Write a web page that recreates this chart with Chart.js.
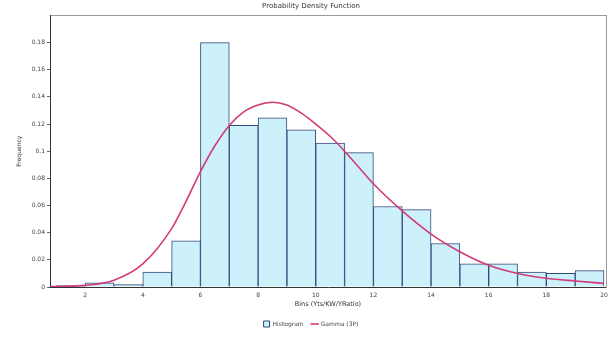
<!DOCTYPE html>
<html>
<head>
<meta charset="utf-8">
<script src="https://cdn.jsdelivr.net/npm/chart.js@4"></script>
<style>
  html, body { margin: 0; padding: 0; background: #fff; }
  #wrap { width: 610px; height: 341px; }
</style>
</head>
<body>
<div id="wrap"><canvas id="pdfChart" width="610" height="341"></canvas></div>
<script>
// Histogram bins (centre of each 1-unit bin) and their frequencies
const binCenters = [1.5, 2.5, 3.5, 4.5, 5.5, 6.5, 7.5, 8.5, 9.5, 10.5, 11.5, 12.5, 13.5, 14.5, 15.5, 16.5, 17.5, 18.5, 19.5];
const binFreq = [0.001, 0.003, 0.0017, 0.011, 0.034, 0.180, 0.119, 0.1245, 0.1157, 0.106, 0.099, 0.0593, 0.057, 0.032, 0.017, 0.017, 0.011, 0.010, 0.012];

// Gamma (3P) fitted curve
const curveX = [0.8, 1, 2, 3, 4, 5, 5.5, 6, 6.5, 7, 7.5, 8, 8.5, 9, 9.5, 10, 10.5, 11, 11.5, 12, 13, 14, 15, 16, 17, 18, 19, 20];
const curveY = [0.0002, 0.0004, 0.0012, 0.005, 0.017, 0.043, 0.063, 0.085, 0.104, 0.119, 0.129, 0.134, 0.136, 0.134, 0.128, 0.12, 0.111, 0.1, 0.088, 0.076, 0.056, 0.039, 0.026, 0.016, 0.010, 0.0064, 0.0044, 0.0027];

const xTickValues = [2, 4, 6, 8, 10, 12, 14, 16, 18, 20];
const yTickValues = [0, 0.02, 0.04, 0.06, 0.08, 0.1, 0.12, 0.14, 0.16, 0.18];

const FONT = "'DejaVu Sans', sans-serif";
const frameColor = '#9a9a9a';

const ctx = document.getElementById('pdfChart').getContext('2d');

new Chart(ctx, {
    data: {
        datasets: [{
            type: 'line',
            label: 'Gamma (3P)',
            data: curveX.map((x, i) => ({ x: x, y: curveY[i] })),
            borderColor: '#d23a78',
            backgroundColor: '#d23a78',
            borderWidth: 1.6,
            pointRadius: 0,
            cubicInterpolationMode: 'monotone',
            pointStyle: 'line',
            order: 0
        }, {
            type: 'bar',
            label: 'Histogram',
            data: binCenters.map((x, i) => ({ x: x, y: binFreq[i] })),
            backgroundColor: '#cdf1fb',
            borderColor: '#34487a',
            borderWidth: 1,
            barPercentage: 1,
            categoryPercentage: 1,
            pointStyle: 'rect',
            order: 1
        }]
    },
    options: {
        responsive: false,
        animation: false,
        layout: { padding: { left: 16, right: 4, top: 0, bottom: 4 } },
        plugins: {
            title: {
                display: true,
                text: 'Probability Density Function',
                color: '#333',
                font: { family: FONT, size: 7, weight: 'normal' },
                padding: { top: 2, bottom: 5 }
            },
            legend: {
                position: 'bottom',
                reverse: true,
                labels: {
                    color: '#444',
                    font: { family: FONT, size: 6 },
                    usePointStyle: true,
                    boxWidth: 7,
                    boxHeight: 6,
                    padding: 8
                }
            },
            tooltip: { enabled: false }
        },
        scales: {
            x: {
                type: 'linear',
                position: 'bottom',
                offset: false,
                min: 0.78,
                max: 20.07,
                afterBuildTicks: s => { s.ticks = xTickValues.map(v => ({ value: v })); },
                ticks: {
                    color: '#444',
                    font: { family: FONT, size: 6 },
                    maxRotation: 0,
                    padding: 1
                },
                grid: { display: false, drawTicks: true, tickLength: 4 },
                border: { color: '#333', width: 1 },
                title: {
                    display: true,
                    text: 'Bins (Yts/KW/YRatio)',
                    color: '#333',
                    font: { family: FONT, size: 6.5 },
                    padding: { top: 0, bottom: 5 }
                }
            },
            xTop: {
                type: 'linear',
                position: 'top',
                min: 0.78,
                max: 20.07,
                ticks: { display: false },
                grid: { display: false },
                border: { color: frameColor, width: 1 },
                afterFit: s => { s.height = 0; }
            },
            y: {
                type: 'linear',
                min: 0,
                max: 0.2,
                afterBuildTicks: s => { s.ticks = yTickValues.map(v => ({ value: v })); },
                afterFit: s => { s.width = 34; },
                ticks: {
                    color: '#444',
                    font: { family: FONT, size: 6 },
                    padding: 2,
                    callback: v => String(+v.toFixed(2))
                },
                grid: { display: true, drawOnChartArea: false, tickLength: 3, color: '#666' },
                border: { color: '#333', width: 1 },
                title: {
                    display: true,
                    text: 'Frequency',
                    color: '#333',
                    font: { family: FONT, size: 6 },
                    padding: { top: 0, bottom: 4 }
                }
            },
            yRight: {
                type: 'linear',
                position: 'right',
                min: 0,
                max: 0.2,
                ticks: { display: false },
                grid: { display: false },
                border: { color: frameColor, width: 1 },
                afterFit: s => { s.width = 0; }
            }
        }
    }
});
</script>
</body>
</html>
